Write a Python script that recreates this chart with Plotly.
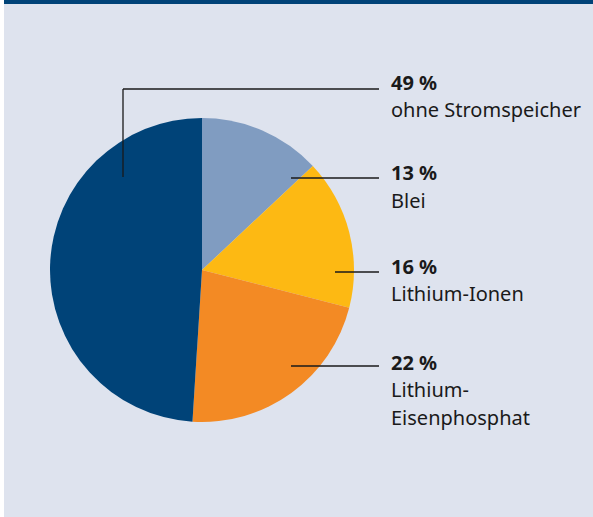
import plotly.graph_objects as go

W, H = 593, 517

# Data
categories = ["Blei", "Lithium-Ionen", "Lithium-Eisenphosphat", "ohne Stromspeicher"]
shares = [13, 16, 22, 49]
colors = ["#809cc1", "#fdb913", "#f38a24", "#004378"]

label_pct = ["13 %", "16 %", "22 %", "49 %"]
label_names = [["Blei"], ["Lithium-Ionen"], ["Lithium-", "Eisenphosphat"], ["ohne Stromspeicher"]]

BG = "#dee3ee"
DARK = "#004378"


def px(x):
    return x / W


def py(y):
    return 1 - y / H


cx, cy, r = 202, 270, 152

fig = go.Figure(go.Pie(
    labels=categories,
    values=shares,
    marker=dict(colors=colors, line=dict(width=0)),
    sort=False,
    direction="clockwise",
    rotation=0,
    textinfo="none",
    hoverinfo="label+percent",
    domain=dict(x=[px(cx - r), px(cx + r)], y=[py(cy + r), py(cy - r)]),
    showlegend=False,
))

shapes = [
    dict(type="rect", xref="paper", yref="paper", x0=px(4), x1=1, y0=0, y1=1,
         fillcolor=BG, line=dict(width=0), layer="below"),
    dict(type="rect", xref="paper", yref="paper", x0=px(4), x1=1, y0=py(4), y1=1,
         fillcolor=DARK, line=dict(width=0), layer="below"),
]

line_style = dict(color="#1a1a1a", width=1.3)
# leader lines (pixel positions)
leaders = [
    [(291, 178), (379, 178)],
    [(335, 272), (379, 272)],
    [(291, 366), (379, 366)],
    [(123, 177), (123, 89), (379, 89)],
]
for pts in leaders:
    for (x0, y0), (x1, y1) in zip(pts[:-1], pts[1:]):
        shapes.append(dict(type="line", xref="paper", yref="paper",
                           x0=px(x0), y0=py(y0), x1=px(x1), y1=py(y1),
                           line=line_style, layer="above"))

pct_y = [172, 266, 362, 82]
name_y0 = [200, 293, 389, 110]
line_gap = 28
text_x = 389
font_family = "Noto Sans"
fsize = 20

annotations = []
for pct, names, y_p, y_n in zip(label_pct, label_names, pct_y, name_y0):
    annotations.append(dict(x=px(text_x), y=py(y_p), xref="paper", yref="paper",
                            text="<b>" + pct + "</b>", showarrow=False,
                            xanchor="left", yanchor="middle",
                            font=dict(family=font_family, size=fsize, color="#1a1a1a")))
    for i, nm in enumerate(names):
        annotations.append(dict(x=px(text_x), y=py(y_n + i * line_gap), xref="paper", yref="paper",
                                text=nm, showarrow=False,
                                xanchor="left", yanchor="middle",
                                font=dict(family=font_family, size=fsize, color="#1a1a1a")))

fig.update_layout(
    width=W, height=H,
    margin=dict(l=0, r=0, t=0, b=0),
    paper_bgcolor="white",
    shapes=shapes,
    annotations=annotations,
)

fig.write_html("out.html", config={"displayModeBar": False},
               post_script="document.body.style.margin='0';document.body.style.padding='0';")
